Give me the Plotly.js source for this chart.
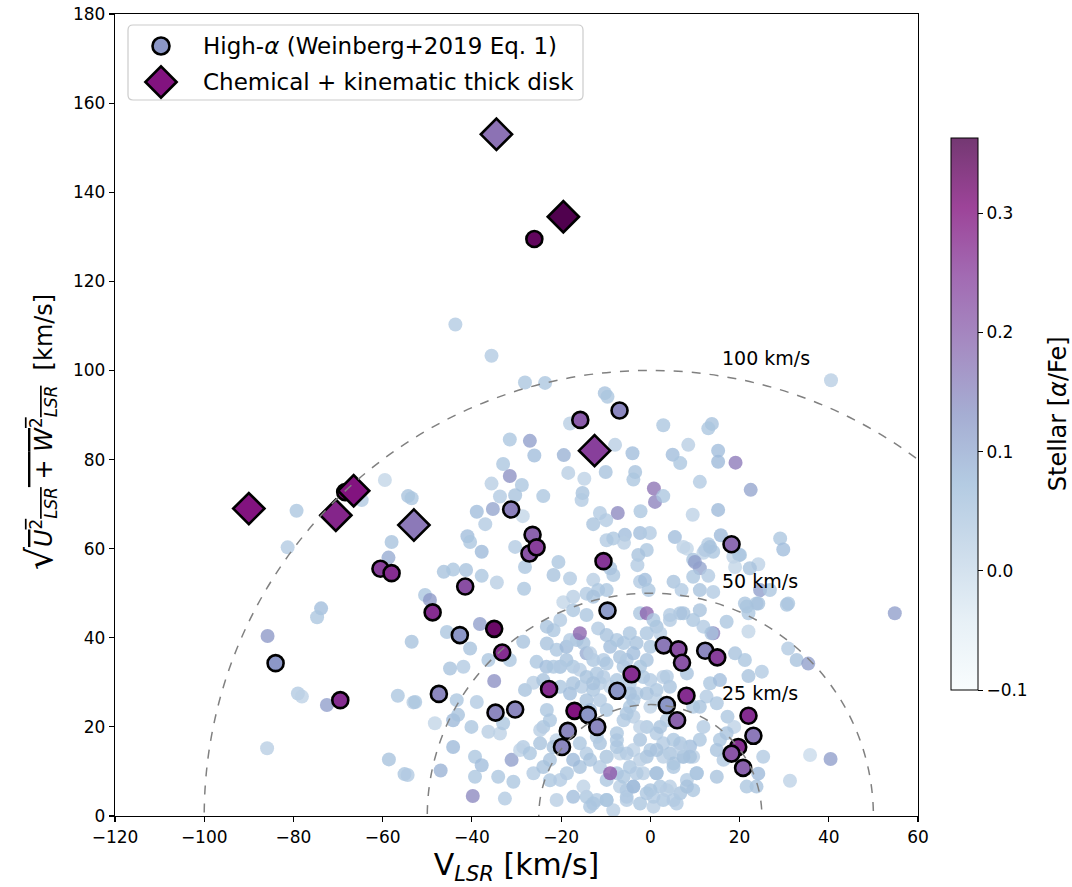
<!DOCTYPE html>
<html>
<head>
<meta charset="utf-8">
<script src="https://cdn.plot.ly/plotly-3.0.1.min.js"></script>
<style>html,body{margin:0;padding:0;background:#fff;}#chart{width:1072px;height:887px;}</style>
</head>
<body>
<div id="chart"></div>
<script>
// ---- Background sample: V_LSR, sqrt(U^2+W^2), [alpha/Fe]
const bgV = [-43.7,-35.6,-28.1,-23.6,40.5,-10.2,-9.6,-18,2.9,13.8,13,-31.5,-27,-26,-19.4,-7.9,-4,8.5,5,6.7,15.2,15.2,19.1,-33,-31.5,-28.8,-35.6,-33.7,-30.3,-24,-18.4,-14.8,-10,-3.4,-3.8,-15.2,-15.4,0.8,1.05,2.9,11.1,22.5,-38.9,-35.3,-37,-28.6,-11.3,-7.3,-2.2,-12.8,-9.9,9.5,15.2,-41,-40.4,-37.8,-30.3,-20.6,-9.8,-8.3,-5.7,-5.9,-2.3,-0.1,-0.8,-2.7,-2.9,5.5,7.4,8.2,9.6,11.1,13,14.1,11.9,15.8,20.1,24.2,29.1,29.8,-46.3,-44.2,-41.3,-37.8,-34.4,-28.1,-28.3,-21.7,-18,-12.8,-11.7,-8.3,-9,-2.3,-1.2,-0.4,5.2,7,9.6,11.1,14.1,18.6,22.3,24.6,26.8,30.9,-50.5,-49.4,-19.5,-17.3,-14.3,-12.8,-9.8,
-59.5,-54.3,-53.5,-64.7,-79.3,-81.3,-58,-58.7,-73.8,-74.7,-85.8,-53.5,-79,-78.1,-72.5,-56.6,-53.1,-85.9,-58.6,-55.1,-54.4,
-45.6,-38.2,-40.4,-41.9,-44.9,-36.3,-31.5,-28.5,-35,-25.5,-23.3,-21.7,-28.1,-26.2,-43.4,-38.9,-52.7,-48.3,-44.2,-43.1,-40.1,-36.3,-33.7,-33,-44.2,-39.3,-37.8,-47,-39.3,-34.1,-31.1,-30.7,-39.8,-32.6,-24,-24.7,-28.5,-29.2,-27,-26.2,-24,-22.5,-21,-14.3,-23.2,-21,-18.8,-16.5,-14.3,-12.8,-20.2,-18.8,-17.3,-15.8,-14.3,-12,-10.5,-9,-7.5,-6.8,-6,-4.6,-20.2,-18,-15.4,-14.3,-12.8,-11.3,-22.5,-21,-15.8,-14.3,-11.3,-9.8,-7.5,-6.8,-11.3,-15.8,-17.3,-9.8,-6.8,-12,-9.8,-5.3,-8.3,-13.5,
54.8,30.6,23.8,21.6,22,22,17.1,19,21.2,30.9,32.8,35.4,25,22,14.1,35.8,40.4,31.3,25.3,24.2,23.8,21.6,15.6,14.9,16.4,14.9,13.4,15.6,12.6,14.9,11.1,17.3,18.8,17.1,11.9,11.1,8.9,9.6,6.7,7.4,5.2,10.4,8.2,6.7,4.4,2.9,5.9,9.6,11.1,9.6,11.9,13.7,6.7,4.4,1.4,-2.3,-0.8,-4.6,-5.3,-0.8,-1.6,2.9,4.4,1.4,-3.1,-4.6,-3.8,-0.8,1.4,-2.3,-3.8,0,2.9,4.4,-4.6,-1.6,1.4,-3.8,0,2.2,-5.3,-2.3,0.7,
-14.3,-11.7,-9.8,-21.7,-18,-15,-15.8,0.7,4.4,7.4,-0.8,2.2,-3.1,0,-9.8,-10.5,-12.8,-9,-2.3,0,-0.8,-3.8,1.4,-9.8,-6,-2.3,-7.5,2.2,-5.3,-0.8,2.9,-7.5,-3.1,1.4,5.2,7.4,-5.3,-0.8,3.7,8.2,-9.8,-9,
12.3,13.4,19.9,19,10,13,21.2,24.2,
-17.3,-20.2,-23.2,-13.5,-6,-3.8,3.7,8.2,9.6,6.7,8.9,10.4,5.2,-22.5,-18.7,-15,-12.8,-17.3,-20.2,-21.7,-9.8,-7.5,-12,-13.5,-6,-3.8,0.7,-2.3,1.4,5.2,3.7,0,-4.6,-7.5,-11.3,-13.5,-5.3,-17.3,-20.2,-23.2,-24.7,-24];
const bgR = [110.3,103.3,97.3,97.2,97.8,94.9,94.1,88.1,87.7,88,87,84.5,84.2,80.9,81,83.3,81.4,83.3,81.1,79.2,82,79.5,79.3,79,76.3,74.3,74.6,71.7,72,71.8,77,75.7,77.2,77.2,75.5,72.5,70.9,73.5,70.5,71.8,75,73.2,68.3,68.9,65.5,67.3,68,68,68.4,65.5,66.4,67.6,68.7,62.8,61.5,59.3,60.4,57,61.9,62.3,63.1,61.3,63.5,63.5,59.7,58.6,56.3,62.6,60.4,60,57.5,55.6,61,59.3,59.1,63,58.6,56.5,62.3,59.8,54.8,55.3,55.2,53.9,52.4,55.9,51,54.1,53.3,53,50.7,54.1,55.6,52.6,53,50.7,52.6,50.7,53.7,50.7,50.3,58.2,55.6,50.7,50.7,47.7,49.6,48.5,48,49.2,49.9,49.2,50.7,
75.4,71.8,71.3,70.9,68.5,60.3,61.5,58,46.6,44.6,40.4,39.1,27.5,26.8,24.9,27,25.5,15.2,12.7,9.4,9.2,
41.3,43.1,37.6,33.5,33.1,35,35,39.1,30.3,34.6,33.5,33.5,28.3,29.9,26,25.6,25.6,20.8,21.5,22.7,20,18.9,18.5,20.8,15.5,13.3,11.4,10.2,8.8,8.8,12.6,7.7,4.5,3.9,20,16.3,15.5,14.8,14.1,9.6,11,8,3.6,4.3,38.7,37.3,38,39.5,36.5,35,33.5,35,33.5,32.8,31.2,32,35,38,39.5,35.7,33.5,29.8,29,27.5,29,26,28.3,29.8,21.5,17,16.3,14,16.3,13.3,17,14,11,11,12.6,8.1,6.6,3.6,3.6,4.3,1.3,2.1,
45.5,47.4,47.7,47,45.5,41.4,43.6,36.5,35,37.6,35,34.2,32.4,31.4,41,13.7,12.8,7.9,13.3,9.5,6.6,6.6,17.1,14.8,12.6,8.8,29.8,30.5,26.8,25.3,24.5,22.3,20,18.6,20,17.1,15.6,13.3,16.3,13.3,11.8,9.6,8.1,5.1,6.6,3.6,2.8,5.8,46.2,44,42.5,41,45.5,44,42.5,45.5,45.5,41,35,35,31.2,31.2,29,28.3,27.5,24.5,22.3,20,18.5,17.1,14.8,14.8,16.3,14,11,9.6,9.6,6.6,5.8,6.6,3.6,2.8,2.1,
45.1,42.1,40.6,41.7,39.5,38.8,41,44,45.1,45.5,41,41,38.8,38,34.2,31.2,29.8,29,33.5,30.5,27.5,26,26,23.8,21.5,20,18.6,20,14,13.3,13.3,9.6,9.6,9.6,11,13.3,5.8,5.1,5.8,6.6,3.6,9.6,
59.7,60.4,58.6,55.9,57,53.9,47.7,47.7,
46.2,44,42.5,36.5,38.8,36.5,31.3,32,24.5,15.5,13.3,9.6,3.6,12.6,9.6,6.6,2.8,4.3,8.1,15.5,13.3,15.5,17.8,12.6,8.8,6.6,4.3,12.6,14.8,17.1,21.5,24.5,27.5,30.5,26,23.8,23,29.8,33.5,23.8,19.3,30.5];
const bgA = [0.04,0.04,0.05,0.05,0.03,0.06,0.05,0.03,0.05,0.06,0.05,0.05,0.12,0.07,0.09,0.03,0.07,0.03,0.07,0.05,0.07,0.08,0.17,0.05,0.14,0.05,0.03,0.04,0.06,0.05,0.03,0.02,0.06,0.06,0.05,0.06,0.04,0.18,0.16,0.05,0.04,0.11,0.07,0.11,0.04,0.01,0.04,0.15,0.05,0.06,0.04,0.02,0.08,0.07,0.05,0.08,0.04,0.05,0.04,0.05,0.07,0.03,0.07,0.04,0.05,0.06,0.04,0.07,0.02,0.01,0.06,0.11,0.04,0.05,0.02,0.08,0.05,0.02,0.05,0.07,0.06,0.05,0.06,0.05,0.03,0.05,0.05,0.06,0.04,0.03,0.05,0.05,0.06,0.04,0.07,0.05,0.06,0.04,0.05,0.06,0.04,0.02,0.06,0.12,0.05,0.05,0.05,0.13,0.01,0.03,0.04,0.06,0.05,
0.01,0.06,0.05,0.04,0.05,0.04,0.06,0.1,0.07,0.05,0.13,0.06,0.04,0.02,0.12,0.05,0.03,0.03,0.06,0.05,0.04,
0.05,0.12,0.06,0.04,0.06,0.05,0.05,0.06,0.14,0.05,0.07,0.05,0.06,0.03,0.05,0.04,0.05,0.01,0.08,0.06,0.05,0.03,0.02,0.05,0.08,0.05,0.07,0.09,0.05,0.05,0.12,0.05,0.15,0.04,0.05,0.06,0.04,0.02,0.05,0.04,0.06,0.05,0.03,0.05,0.06,0.05,0.08,0.06,0.1,0.05,0.04,0.06,0.05,0.03,0.06,0.05,0.04,0.07,0.05,0.06,0.05,0.04,0.05,0.07,0.04,0.06,0.05,0.03,0.05,0.02,0.05,0.04,0.06,0.03,0.05,0.01,0.04,0.06,0.08,0.05,0.03,0.04,0.06,0.05,0.03,0.05,
0.12,0.05,0.05,0.06,0.05,0.01,0.05,0.06,0.05,0.04,0.06,0.12,0.04,0.06,0.16,0.0,0.12,0.02,0.04,0.08,0.06,0.05,0.05,0.06,0.04,0.06,0.05,0.07,0.04,0.05,0.06,0.05,0.02,0.06,0.04,0.05,0.07,0.03,0.05,0.04,0.06,0.05,0.04,0.06,0.03,0.05,0.04,0.05,0.06,0.05,0.04,0.06,0.05,0.04,0.06,0.05,0.2,0.05,0.04,0.06,0.05,0.03,0.06,0.05,0.04,0.05,0.03,0.05,0.04,0.06,0.02,0.05,0.04,0.06,0.05,0.03,0.05,0.04,0.06,0.05,0.04,0.05,0.03,
0.05,0.04,0.06,0.05,0.04,0.06,0.2,0.05,0.04,0.06,0.05,0.03,0.06,0.05,0.05,0.04,0.06,0.02,0.05,0.04,0.06,0.05,0.03,0.05,0.04,0.02,0.05,0.06,0.04,0.06,0.03,0.05,0.04,0.06,0.05,0.06,0.04,0.05,0.03,0.06,0.05,0.22,
0.04,0.06,0.05,0.01,0.12,0.04,0.05,0.06,
0.05,0.04,0.06,0.03,0.05,0.07,0.04,0.06,0.05,0.03,0.06,0.05,0.04,0.06,0.05,0.02,0.05,0.07,0.04,0.06,0.03,0.05,0.04,0.06,0.05,0.08,0.04,0.03,0.06,0.05,0.04,0.02,0.06,0.05,0.04,0.07,0.05,0.06,0.04,0.05,0.03,0.06];

// ---- High-alpha stars (Weinberg+2019 Eq. 1)
const hiV = [-42.7,-26,-15.7,-6.9,-68.4,-31.2,-26.4,-27.1,-25.5,-10.5,18.2,-60.5,-58,-41.5,-9.6,-48.8,-35,-33.2,-84,-69.5,-47.4,-34.7,-30.3,-22.7,3,6.3,7.1,12.3,15,-4.2,-7.4,8.1,-17,-14,-11.9,-18.5,-19.8,3.7,6,22,23.1,19.7,18.2,20.8];
const hiR = [40.6,129.5,88.9,91,72.7,68.8,63.1,58.9,60.3,57.2,61,55.5,54.5,51.5,46.1,45.7,42,36.7,34.3,26,27.4,23.2,23.9,28.5,38.3,37.4,34.4,37.1,35.6,31.8,28.1,27,23.6,22.7,20,19.1,15.5,24.9,21.5,22.5,18,15.5,14,10.8];
const hiA = [0.13,0.34,0.21,0.15,0.33,0.16,0.2,0.22,0.25,0.26,0.19,0.25,0.27,0.23,0.12,0.27,0.33,0.27,0.13,0.27,0.15,0.15,0.15,0.27,0.17,0.23,0.22,0.15,0.25,0.27,0.13,0.27,0.3,0.13,0.15,0.15,0.15,0.13,0.2,0.27,0.17,0.27,0.22,0.2];

// ---- Chemical + kinematic thick disk
const thkV = [-90,-70.5,-66.5,-53,-34.5,-19.5,-12.5];
const thkR = [69,67.5,73,65.3,153,134.5,82];
const thkA = [0.30,0.28,0.30,0.17,0.18,0.36,0.25];

// ---- Legend entries
const legendNames = ['High-<i>α</i> (Weinberg+2019 Eq. 1)', 'Chemical + kinematic thick disk'];
const legendSymbols = ['circle', 'diamond'];
const legendA = [0.13, 0.30];

// ---- Reference velocity circles
const radii = [25, 50, 100];
const radiusLabels = ['25 km/s', '50 km/s', '100 km/s'];
const labelPos = [[15.6, 27.6], [15.6, 52.8], [15.6, 102.8]];

const xTicks = [-120,-100,-80,-60,-40,-20,0,20,40,60];
const yTicks = [0,20,40,60,80,100,120,140,160,180];

const buPu = ['#f7fcfd','#e0ecf4','#bfd3e6','#9ebcda','#8c96c6','#8c6bb1','#88419d','#810f7c','#4d004b'];
function hexRgb(h){return [parseInt(h.substr(1,2),16),parseInt(h.substr(3,2),16),parseInt(h.substr(5,2),16)];}
const csOpaque = buPu.map((c,i)=>[i/(buPu.length-1), c]);
const csAlpha = buPu.map((c,i)=>{const r=hexRgb(c);return [i/(buPu.length-1), `rgba(${r[0]},${r[1]},${r[2]},0.78)`];});
const CMIN = -0.1, CMAX = 0.363;
const FONT = 'DejaVu Sans';

const traces = [
  {
    type:'scatter', mode:'markers', x:bgV, y:bgR, showlegend:false, hoverinfo:'skip',
    marker:{size:14, opacity:1, color:bgA, colorscale:csAlpha, cmin:CMIN, cmax:CMAX, showscale:true,
      line:{width:0},
      colorbar:{
        x:1.041, xanchor:'left', xref:'paper', xpad:0, ypad:0, y:0.501, yanchor:'middle', len:0.688, lenmode:'fraction',
        thickness:27, outlinecolor:'#000', outlinewidth:1, ticks:'outside', ticklen:5, tickwidth:1,
        tickcolor:'#000', tickvals:[-0.1,0,0.1,0.2,0.3], tickformat:'.1f',
        tickfont:{family:FONT, size:17, color:'#000'},
        title:{text:''}
      }}
  },
  {
    type:'scatter', mode:'markers', x:hiV, y:hiR, showlegend:false,
    marker:{size:16, opacity:1, color:hiA, colorscale:csOpaque, cmin:CMIN, cmax:CMAX, showscale:false,
      line:{width:2.6, color:'#000'}}
  },
  {
    type:'scatter', mode:'markers', x:thkV, y:thkR, showlegend:false,
    marker:{symbol:'diamond', size:24, opacity:1, color:thkA, colorscale:csOpaque, cmin:CMIN, cmax:CMAX, showscale:false,
      line:{width:2.6, color:'#000'}}
  },
  // legend symbols, on a small helper axis pair measured in pixels of the legend box
  {
    type:'scatter', mode:'markers', x:[161,161], y:[46,82], xaxis:'x2', yaxis:'y2', showlegend:false,
    hoverinfo:'skip', cliponaxis:false,
    marker:{symbol:legendSymbols, size:[17,24], opacity:1, color:legendA, colorscale:csOpaque, cmin:CMIN, cmax:CMAX,
      showscale:false, line:{width:2.6, color:'#000'}}
  }
];

const shapes = radii.map(r => ({
  type:'circle', xref:'x', yref:'y', x0:-r, x1:r, y0:-r, y1:r,
  line:{color:'#808080', width:1.5, dash:'dash'}, layer:'above'
}));
// legend frame (rounded), paper coordinates
(function(){
  const px=(v)=>(v-115)/803, py=(v)=>(816-v)/802;
  const x0=px(128), x1=px(583), y0=py(100), y1=py(25), rx=5/803, ry=5/802;
  shapes.push({type:'path', xref:'paper', yref:'paper', layer:'below',
    path:`M ${x0+rx},${y0} L ${x1-rx},${y0} Q ${x1},${y0} ${x1},${y0+ry} L ${x1},${y1-ry} Q ${x1},${y1} ${x1-rx},${y1} L ${x0+rx},${y1} Q ${x0},${y1} ${x0},${y1-ry} L ${x0},${y0+ry} Q ${x0},${y0} ${x0+rx},${y0} Z`,
    fillcolor:'rgba(0,0,0,0)', line:{color:'#cccccc', width:1.2}});
})();

const annotations = radii.map((r,i)=>({
  x:labelPos[i][0], y:labelPos[i][1], xref:'x', yref:'y', text:radiusLabels[i], showarrow:false,
  xanchor:'left', yanchor:'middle', font:{family:FONT, size:19, color:'#000'}
}));
legendNames.forEach((t,i)=>annotations.push({
  x:201, y:[46,82][i], xref:'x2', yref:'y2', text:t, showarrow:false, xanchor:'left', yanchor:'middle',
  font:{family:FONT, size:23, color:'#000'}
}));
// y-axis title
annotations.push({
  xref:'paper', yref:'paper', x:(40-115)/803, y:(816-432)/802, xanchor:'center', yanchor:'middle',
  textangle:-90, showarrow:false,
  text:"<span style='font-size:36px'>√</span><span style='text-decoration:overline'><i>U</i><sup>2</sup><sub><i>LSR</i></sub> + <i>W</i><sup>2</sup><sub><i>LSR</i></sub></span>  [km/s]",
  font:{family:FONT, size:24, color:'#000'}
});
// colorbar title
annotations.push({
  xref:'paper', yref:'paper', x:(1058-115)/803, y:0.501, xanchor:'center', yanchor:'middle',
  textangle:-90, showarrow:false, text:'Stellar [<i>α</i>/Fe]', font:{family:FONT, size:24, color:'#000'}
});

const axisCommon = {
  showgrid:false, zeroline:false, showline:true, mirror:true, linecolor:'#000', linewidth:1.2,
  ticks:'outside', ticklen:5, tickwidth:1.2, tickcolor:'#000',
  tickfont:{family:FONT, size:17, color:'#000'}
};

const layout = {
  width:1072, height:887,
  margin:{l:115, r:154, t:14, b:71},
  paper_bgcolor:'#fff', plot_bgcolor:'rgba(0,0,0,0)',
  font:{family:FONT, color:'#000'},
  showlegend:false,
  xaxis:Object.assign({}, axisCommon, {range:[-120,60], tickvals:xTicks,
    title:{text:'V<sub><i>LSR</i></sub> [km/s]', font:{family:FONT, size:30, color:'#000'}, standoff:4}}),
  yaxis:Object.assign({}, axisCommon, {range:[0,180], tickvals:yTicks}),
  xaxis2:{domain:[(128-115)/803, (583-115)/803], range:[128,583], anchor:'y2', visible:false, fixedrange:true},
  yaxis2:{domain:[(816-100)/802, (816-25)/802], range:[100,25], anchor:'x2', visible:false, fixedrange:true},
  shapes:shapes, annotations:annotations
};

Plotly.newPlot('chart', traces, layout, {displayModeBar:false, staticPlot:true});
</script>
</body>
</html>
